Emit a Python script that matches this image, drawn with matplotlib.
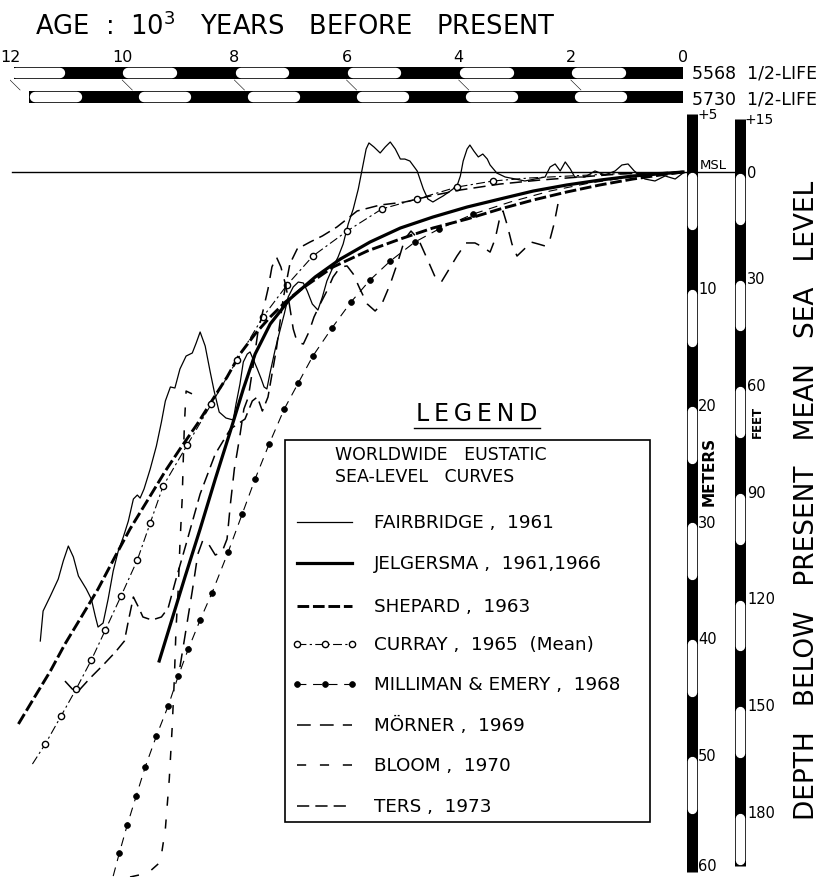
"""Worldwide eustatic sea-level curves: depth below present MSL vs age."""
import matplotlib

matplotlib.use("Agg")
import matplotlib.pyplot as plt
from matplotlib.patches import Rectangle

plt.rcParams.update({
    "font.family": ["DejaVu Sans"],
    "font.size": 11,
    "mathtext.fontset": "dejavusans",
})

# ---- curves: age (10^3 yr BP, 5568 half-life), depth (m below present MSL)
FAIRBRIDGE_AGE = [11.46, 11.41, 11.28, 11.14, 11.05, 10.96, 10.87, 10.78, 10.64, 10.55,
                  10.48, 10.43, 10.34, 10.25, 10.16, 10.07, 9.98, 9.89, 9.80, 9.73,
                  9.68, 9.61, 9.50, 9.39, 9.30, 9.23, 9.14, 9.06, 8.97, 8.86,
                  8.75, 8.68, 8.61, 8.52, 8.43, 8.36, 8.27, 8.15, 8.02, 7.97,
                  7.90, 7.84, 7.77, 7.72, 7.65, 7.59, 7.52, 7.47, 7.42, 7.36,
                  7.27, 7.18, 7.11, 7.04, 6.95, 6.86, 6.77, 6.70, 6.61, 6.51,
                  6.43, 6.35, 6.24, 6.15, 6.06, 5.97, 5.88, 5.79, 5.72, 5.65,
                  5.60, 5.51, 5.40, 5.31, 5.22, 5.13, 5.04, 4.96, 4.87, 4.74,
                  4.63, 4.55, 4.46, 4.37, 4.28, 4.15, 4.03, 3.97, 3.92, 3.85,
                  3.80, 3.73, 3.65, 3.57, 3.49, 3.44, 3.32, 3.17, 2.99, 2.82,
                  2.64, 2.46, 2.37, 2.28, 2.19, 2.10, 2.01, 1.93, 1.75, 1.57,
                  1.39, 1.21, 1.09, 0.98, 0.87, 0.68, 0.50, 0.32, 0.14, 0.00]
FAIRBRIDGE_DEPTH = [40.19, 37.62, 36.33, 34.88, 33.33, 32.05, 32.99, 34.62, 35.73, 36.59,
                    38.05, 38.99, 38.65, 36.59, 34.19, 32.48, 31.28, 29.91, 28.02, 27.68,
                    27.94, 27.16, 25.45, 23.48, 21.42, 19.62, 18.42, 18.51, 16.88, 15.77,
                    15.51, 14.65, 13.71, 14.91, 17.14, 18.77, 20.57, 21.08, 21.25, 19.88,
                    18.17, 16.28, 15.60, 15.42, 16.20, 16.88, 17.74, 18.42, 18.59, 17.14,
                    15.17, 13.45, 12.17, 10.71, 9.85, 9.43, 9.51, 10.20, 11.31, 11.83,
                    10.71, 9.34, 8.14, 7.28, 6.17, 4.46, 3.17, 1.46, -0.26, -1.97,
                    -2.49, -2.14, -1.63, -2.14, -2.57, -1.97, -1.11, -1.11, -0.94, -0.09,
                    1.46, 2.31, 2.57, 2.31, 2.06, 1.63, 1.20, 0.34, -0.94, -1.97,
                    -2.31, -1.80, -1.29, -1.54, -1.11, -0.60, 0.09, 0.43, 0.60, 0.77,
                    0.60, 0.43, -0.43, -0.69, -0.09, -0.86, -0.26, 0.43, 0.43, -0.09,
                    0.26, -0.09, -0.60, -0.69, -0.09, 0.60, 0.77, 0.34, 0.60, 0.09]

JELGERSMA_AGE = [9.34, 9.11, 8.88, 8.61, 8.34, 8.07, 7.84, 7.63, 7.36, 7.01, 6.56,
                 6.11, 5.58, 5.04, 4.46, 3.85, 3.26, 2.67, 2.07, 1.48, 0.89, 0.00]
JELGERSMA_DEPTH = [41.90, 38.30, 34.70, 30.59, 26.31, 22.19, 18.59, 15.60, 13.02, 10.88, 9.00,
                   7.46, 6.00, 4.80, 3.86, 3.00, 2.31, 1.63, 1.11, 0.69, 0.34, 0.00]

SHEPARD_AGE = [11.85, 11.55, 11.28, 11.02, 10.75, 10.43, 10.12, 9.86, 9.50, 9.23,
               8.97, 8.66, 8.38, 8.13, 7.90, 7.63, 7.36, 7.09, 6.83, 6.24,
               5.63, 5.04, 4.46, 3.85, 3.26, 2.67, 2.07, 1.48, 0.89, 0.41, 0.00]
SHEPARD_DEPTH = [47.30, 44.90, 42.76, 40.45, 38.30, 35.73, 32.90, 30.59, 27.76, 25.62,
                 23.74, 21.59, 19.45, 17.57, 15.60, 13.88, 12.42, 11.14, 10.11, 8.14,
                 6.77, 5.74, 4.80, 4.03, 3.17, 2.40, 1.71, 1.11, 0.60, 0.26, 0.00]

CURRAY_AGE = [11.60, 11.37, 11.09, 10.82, 10.55, 10.30, 10.02, 9.73, 9.50, 9.27,
              8.84, 8.41, 7.95, 7.49, 7.06, 6.60, 5.99, 5.37, 4.74, 4.03,
              3.39, 2.73, 2.01, 1.30, 0.59, 0.00]
CURRAY_DEPTH = [50.73, 49.01, 46.62, 44.30, 41.82, 39.25, 36.33, 33.25, 30.08, 26.91,
                23.39, 19.88, 16.11, 12.42, 9.68, 7.20, 5.06, 3.17, 2.31, 1.29,
                0.77, 0.51, 0.34, 0.17, 0.09, 0.00]

MILLIMAN_AGE = [10.16, 10.05, 9.91, 9.75, 9.59, 9.39, 9.18, 9.00, 8.82, 8.61,
                8.40, 8.11, 7.86, 7.63, 7.38, 7.11, 6.86, 6.60, 6.26, 5.92,
                5.58, 5.22, 4.78, 4.35, 3.74, 3.08, 2.37, 1.66, 0.94, 0.00]
MILLIMAN_DEPTH = [60.33, 58.35, 55.96, 53.47, 50.99, 48.33, 45.76, 43.19, 40.87, 38.39,
                  36.08, 32.56, 29.31, 26.31, 23.31, 20.31, 18.08, 15.77, 13.37, 11.14,
                  9.25, 7.63, 6.00, 4.88, 3.60, 2.57, 1.63, 0.94, 0.43, 0.00]

MORNER_AGE = [8.97, 8.86, 8.75, 8.65, 8.56, 8.45, 8.34, 8.22, 8.13, 8.07,
              8.00, 7.91, 7.83, 7.75, 7.66, 7.58, 7.49, 7.40, 7.33, 7.25,
              7.17, 7.09, 7.02, 6.95, 6.88, 6.77, 6.67, 6.58, 6.47, 6.35,
              6.24, 6.11, 5.99, 5.88, 5.76, 5.63, 5.49, 5.37, 5.22, 5.08,
              4.96, 4.85, 4.72, 4.56, 4.42, 4.31, 4.19, 4.03, 3.87, 3.71,
              3.57, 3.44, 3.35, 3.28, 3.21, 3.14, 3.05, 2.96, 2.83, 2.71,
              2.58, 2.46, 2.37, 2.30, 2.23]
MORNER_DEPTH = [42.42, 39.16, 35.90, 32.73, 31.53, 31.96, 32.82, 32.56, 31.45, 28.45,
                25.45, 22.88, 20.31, 19.28, 16.45, 13.71, 11.91, 10.03, 8.14, 7.28,
                8.14, 9.60, 11.31, 13.45, 14.57, 14.74, 13.71, 12.43, 11.31, 10.20,
                9.00, 8.14, 8.05, 8.74, 10.03, 11.31, 11.91, 11.31, 9.60, 7.63,
                5.74, 5.06, 5.74, 7.46, 9.00, 9.43, 8.48, 7.20, 6.08, 6.08,
                6.43, 6.86, 5.74, 4.20, 3.34, 4.46, 6.17, 7.20, 6.60, 6.00,
                6.17, 6.34, 5.74, 4.46, 2.74]

BLOOM_AGE = [9.86, 9.54, 9.32, 9.23, 9.16, 9.11, 9.07, 9.04, 9.00, 8.97,
             8.93, 8.91, 8.89, 8.86, 8.75, 8.65]
BLOOM_DEPTH = [60.41, 60.07, 59.13, 56.30, 52.01, 47.73, 43.45, 39.16, 35.73, 31.88,
               28.02, 24.59, 21.59, 18.77, 19.02, 19.62]

TERS_AGE = [11.02, 10.89, 10.78, 10.57, 10.34, 10.12, 9.96, 9.89, 9.80, 9.71,
            9.63, 9.47, 9.30, 9.18, 9.04, 8.86, 8.61, 8.34, 8.07, 7.81,
            7.68, 7.59, 7.50, 7.40, 7.25, 7.13, 7.01, 6.88, 6.65, 6.43,
            6.17, 5.81, 5.40, 4.96, 4.51, 3.97, 3.26, 2.55, 1.84, 1.12, 0.00]
TERS_DEPTH = [43.62, 44.30, 44.47, 43.36, 42.25, 41.13, 40.19, 38.48, 36.42, 37.28,
              38.13, 38.39, 38.13, 37.36, 34.88, 31.88, 27.59, 24.16, 22.02, 21.17,
              19.62, 19.28, 20.48, 19.28, 15.17, 10.88, 7.88, 6.60, 6.00, 5.48,
              4.71, 3.34, 2.83, 2.57, 2.06, 1.54, 1.03, 0.69, 0.43, 0.17, 0.00]

LEGEND_LABELS = ["FAIRBRIDGE ,  1961", "JELGERSMA ,  1961,1966", "SHEPARD ,  1963",
                 "CURRAY ,  1965  (Mean)", "MILLIMAN & EMERY ,  1968", "MÖRNER ,  1969",
                 "BLOOM ,  1970", "TERS ,  1973"]

AGE_TICKS = [12, 10, 8, 6, 4, 2, 0]
METER_TICKS = [10, 20, 30, 40, 50, 60]
FEET_TICKS = [0, 30, 60, 90, 120, 150, 180]
HALF_LIFE_RATIO = 5730 / 5568
FT = 0.3048

STYLES = [
    dict(color="k", lw=0.9, ls="-"),
    dict(color="k", lw=2.3, ls="-"),
    dict(color="k", lw=2.1, ls=(0, (4, 1.3))),
    dict(color="k", lw=0.8, ls=(0, (8, 3, 2, 3)), marker="o", ms=4.5, mfc="white", mew=1.0),
    dict(color="k", lw=0.8, ls=(0, (8, 6)), marker="o", ms=4.2, mfc="k", mew=0.5),
    dict(color="k", lw=1.1, ls=(0, (9, 6))),
    dict(color="k", lw=1.1, ls=(0, (6, 9))),
    dict(color="k", lw=1.1, ls=(0, (8, 4))),
]

W, H = 823, 878
fig = plt.figure(figsize=(W / 100, H / 100), dpi=100)


def fx(x):
    return x / W


def fy(y):
    return 1 - y / H


# main axes: x px 10..760 -> age 12..-1.3725 ; y px 115..878 -> depth -4.97..60.41
ax = fig.add_axes([fx(10), 0, 750 / W, (H - 115) / H])
ax.set_xlim(12.0, -1.3725)
ax.set_ylim(60.41, -4.97)
ax.axis("off")

series = [(FAIRBRIDGE_AGE, FAIRBRIDGE_DEPTH), (JELGERSMA_AGE, JELGERSMA_DEPTH),
          (SHEPARD_AGE, SHEPARD_DEPTH), (CURRAY_AGE, CURRAY_DEPTH),
          (MILLIMAN_AGE, MILLIMAN_DEPTH), (MORNER_AGE, MORNER_DEPTH),
          (BLOOM_AGE, BLOOM_DEPTH), (TERS_AGE, TERS_DEPTH)]
marks = [None, None, None, slice(1, 21), slice(1, 25), None, None, None]
for (a, d), st, mk in zip(series, STYLES, marks):
    ax.plot(a, d, markevery=mk, **st)

# present mean sea level
ax.plot([11.96, -0.93], [0, 0], color="k", lw=1.0)

# vertical depth scales
M_X, F_X = -0.152, -1.016


def scale_bar(axis, x, top, bottom, whites, lw_px, horizontal=False, r=0.45):
    if horizontal:
        axis.plot([top, bottom], [x, x], color="k", lw=lw_px * 0.72,
                  solid_capstyle="butt")
    else:
        axis.plot([x, x], [top, bottom], color="k", lw=lw_px * 0.72,
                  solid_capstyle="butt")
    for a, b in whites:
        lo, hi = min(a, b) + r, max(a, b) - r
        if horizontal:
            axis.plot([lo, hi], [x, x], color="white", lw=(lw_px - 1.6) * 0.72,
                      solid_capstyle="round")
        else:
            axis.plot([x, x], [lo, hi], color="white", lw=(lw_px - 1.6) * 0.72,
                      solid_capstyle="round")


scale_bar(ax, M_X, -5, 60, [(k, k + 5) for k in range(0, 60, 10)], 11)
scale_bar(ax, F_X, -15 * FT, 195 * FT, [(k * FT, (k + 15) * FT) for k in range(0, 181, 30)], 11,
          r=0.5)

ax.text(-0.25, -5, "+5", fontsize=10, ha="left", va="center")
for m in METER_TICKS:
    ax.text(-0.27, min(m, 59.4), str(m), fontsize=10.5, ha="left", va="center")
ax.text(-1.10, -15 * FT, "+15", fontsize=10, ha="left", va="center")
for f in FEET_TICKS:
    ax.text(-1.14, f * FT, str(f), fontsize=10.5, ha="left", va="center")
ax.text(-0.47, 25.6, "METERS", fontsize=11, fontweight="bold", rotation=90,
        ha="center", va="center")
ax.text(-1.33, 21.3, "FEET", fontsize=8.5, fontweight="bold", rotation=90,
        ha="center", va="center")
ax.text(-0.54, -0.65, "MSL", fontsize=9.5, ha="center", va="center")

# top age scales (5568 and 5730 half-life)
ax_top = fig.add_axes([fx(10), fy(112), 750 / W, 67 / H])
ax_top.set_xlim(12.0, -1.3725)
ax_top.set_ylim(112, 45)
ax_top.axis("off")
seg = 1 / HALF_LIFE_RATIO
scale_bar(ax_top, 74, 11.92, 0, [(k + 1, k + 2) for k in range(0, 12, 2)], 12,
          horizontal=True, r=0.11)
scale_bar(ax_top, 98, 12 * seg, 0, [((k + 1) * seg, (k + 2) * seg) for k in range(0, 12, 2)],
          12, horizontal=True, r=0.11)
for t in AGE_TICKS:
    ax_top.text(t, 58, str(t), fontsize=11.5, ha="center", va="center")
    if t > 0:
        ax_top.plot([t, t - 0.18], [81, 91], color="k", lw=0.4)
ax_top.text(-0.16, 74, "5568  1/2-LIFE", fontsize=12.5, ha="left", va="center")
ax_top.text(-0.16, 99, "5730  1/2-LIFE", fontsize=12.5, ha="left", va="center")

fig.text(fx(35), fy(27), "AGE  :  10$^3$   YEARS   BEFORE   PRESENT", fontsize=18.5,
         ha="left", va="center")
fig.text(fx(807), fy(500), "DEPTH   BELOW   PRESENT   MEAN   SEA   LEVEL",
         fontsize=19, rotation=90, ha="center", va="center")

# legend (drawn in pixel space)
lg = fig.add_axes([0, 0, 1, 1])
lg.set_xlim(0, W)
lg.set_ylim(H, 0)
lg.axis("off")
lg.text(477, 414, "L\u2009E\u2009G\u2009E\u2009N\u2009D", fontsize=17, ha="center", va="center")
lg.plot([414, 540], [429, 429], color="k", lw=1.0)
lg.add_patch(Rectangle((285, 441), 365, 382, facecolor="white", edgecolor="k", lw=1.2))
lg.text(335, 455, "WORLDWIDE   EUSTATIC", fontsize=12.5, ha="left", va="center")
lg.text(335, 477, "SEA-LEVEL   CURVES", fontsize=12.5, ha="left", va="center")
rows = [523, 564, 607, 645, 685, 726, 766, 807]
for yy, lab, st in zip(rows, LEGEND_LABELS, STYLES):
    lg.plot([297, 325, 352], [yy, yy, yy], **st)
    lg.text(374, yy, lab, fontsize=13.2, ha="left", va="center")

fig.savefig("out.png", dpi=100)
